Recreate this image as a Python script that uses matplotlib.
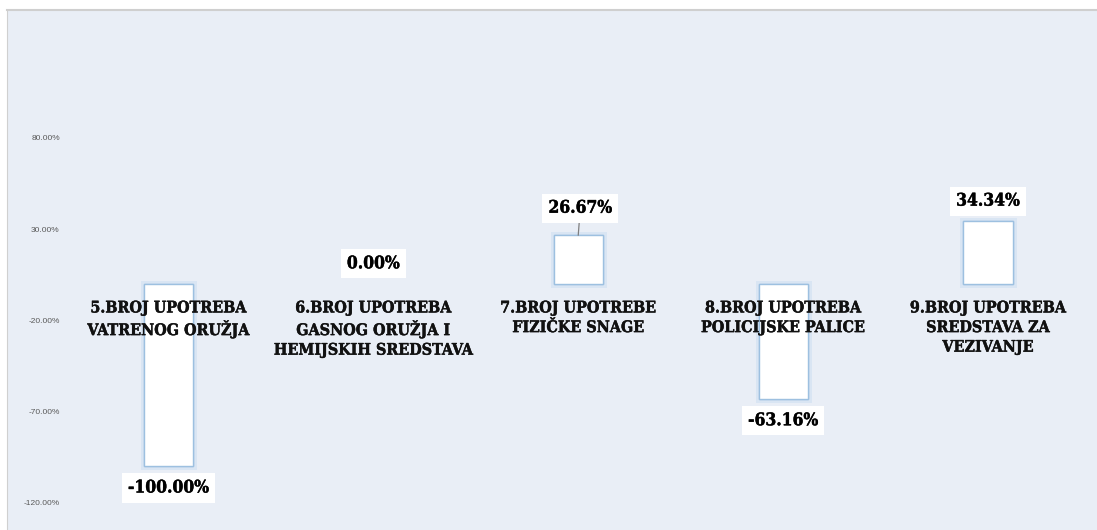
import glob
import matplotlib
matplotlib.use("Agg")
import matplotlib.pyplot as plt
import matplotlib.patheffects as pe
from matplotlib.font_manager import FontProperties

categories = [
    "5.BROJ UPOTREBA\nVATRENOG ORUŽJA",
    "6.BROJ UPOTREBA\nGASNOG ORUŽJA I\nHEMIJSKIH SREDSTAVA",
    "7.BROJ UPOTREBE\nFIZIČKE SNAGE",
    "8.BROJ UPOTREBA\nPOLICIJSKE PALICE",
    "9.BROJ UPOTREBA\nSREDSTAVA ZA\nVEZIVANJE",
]
changes = [-100.00, 0.00, 26.67, -63.16, 34.34]
value_labels = ["-100.00%", "0.00%", "26.67%", "-63.16%", "34.34%"]
y_ticks = [-120, -70, -20, 30, 80]
y_tick_labels = ["-120.00%", "-70.00%", "-20.00%", "30.00%", "80.00%"]

panel_bg = "#e9eef6"

# a condensed bold serif is closest to the original; fall back to Liberation Serif
cond = glob.glob("/usr/share/fonts/**/DejaVuSerifCondensed-Bold.ttf", recursive=True)
if cond:
    cat_font = FontProperties(fname=cond[0], size=11.5)
    val_font = FontProperties(fname=cond[0], size=12.5)
else:
    cat_font = FontProperties(family="Liberation Serif", weight="bold", size=11.5)
    val_font = FontProperties(family="Liberation Serif", weight="bold", size=14.5)
heavy = [pe.withStroke(linewidth=0.3, foreground="#111111")]

fig = plt.figure(figsize=(10.97, 5.30), dpi=100, facecolor="white")
ax = fig.add_axes([7 / 1097, 0.0, 1090 / 1097, 520 / 530])
ax.set_facecolor(panel_bg)

x = list(range(len(categories)))
bars = ax.bar(x, changes, width=0.24, color="white", edgecolor="#9dc0e0",
              linewidth=1.0, zorder=2)
for b, val in zip(bars, changes):
    if val == 0:
        b.set_linewidth(0)
        continue
    b.set_path_effects([pe.withStroke(linewidth=5, foreground="#d9e5f3"), pe.Normal()])

ax.set_xlim(-0.788, 4.532)
ax.set_ylim(-134.8, 150.1)

ax.set_xticks([])
ax.set_yticks(y_ticks)
ax.set_yticklabels(y_tick_labels, fontsize=6, color="#595959", family="Liberation Sans")
ax.tick_params(axis="y", length=0, pad=-38)
for lbl in ax.get_yticklabels():
    lbl.set_horizontalalignment("right")

for side in ["right", "bottom"]:
    ax.spines[side].set_visible(False)
ax.spines["left"].set_color("#d0d0d0")
ax.spines["top"].set_color("#cfcfcf")
ax.spines["top"].set_linewidth(1.5)

# category names sit just under the zero line, over the bars
for xi, name in zip(x, categories):
    ax.text(xi, -8.5, name, ha="center", va="top", fontproperties=cat_font,
            linespacing=1.2, color="#111111", zorder=4, path_effects=heavy)

# value labels in white boxes
box = dict(boxstyle="square,pad=0.35", fc="white", ec="none")
for xi, val, txt in zip(x, changes, value_labels):
    off = 14.5 if val >= 0 else -15.5
    if xi == 2:
        ax.annotate(txt, (xi, val), xytext=(1.5, 19.5), textcoords="offset points",
                    ha="center", va="center", fontproperties=val_font, bbox=box,
                    zorder=5, path_effects=heavy,
                    arrowprops=dict(arrowstyle="-", color="#7f7f7f",
                                    lw=0.9, shrinkA=0, shrinkB=0))
    else:
        ax.annotate(txt, (xi, val), xytext=(0, off), textcoords="offset points",
                    ha="center", va="center", fontproperties=val_font, bbox=box,
                    zorder=5, path_effects=heavy)

fig.savefig("out.png", dpi=100, facecolor="white")
